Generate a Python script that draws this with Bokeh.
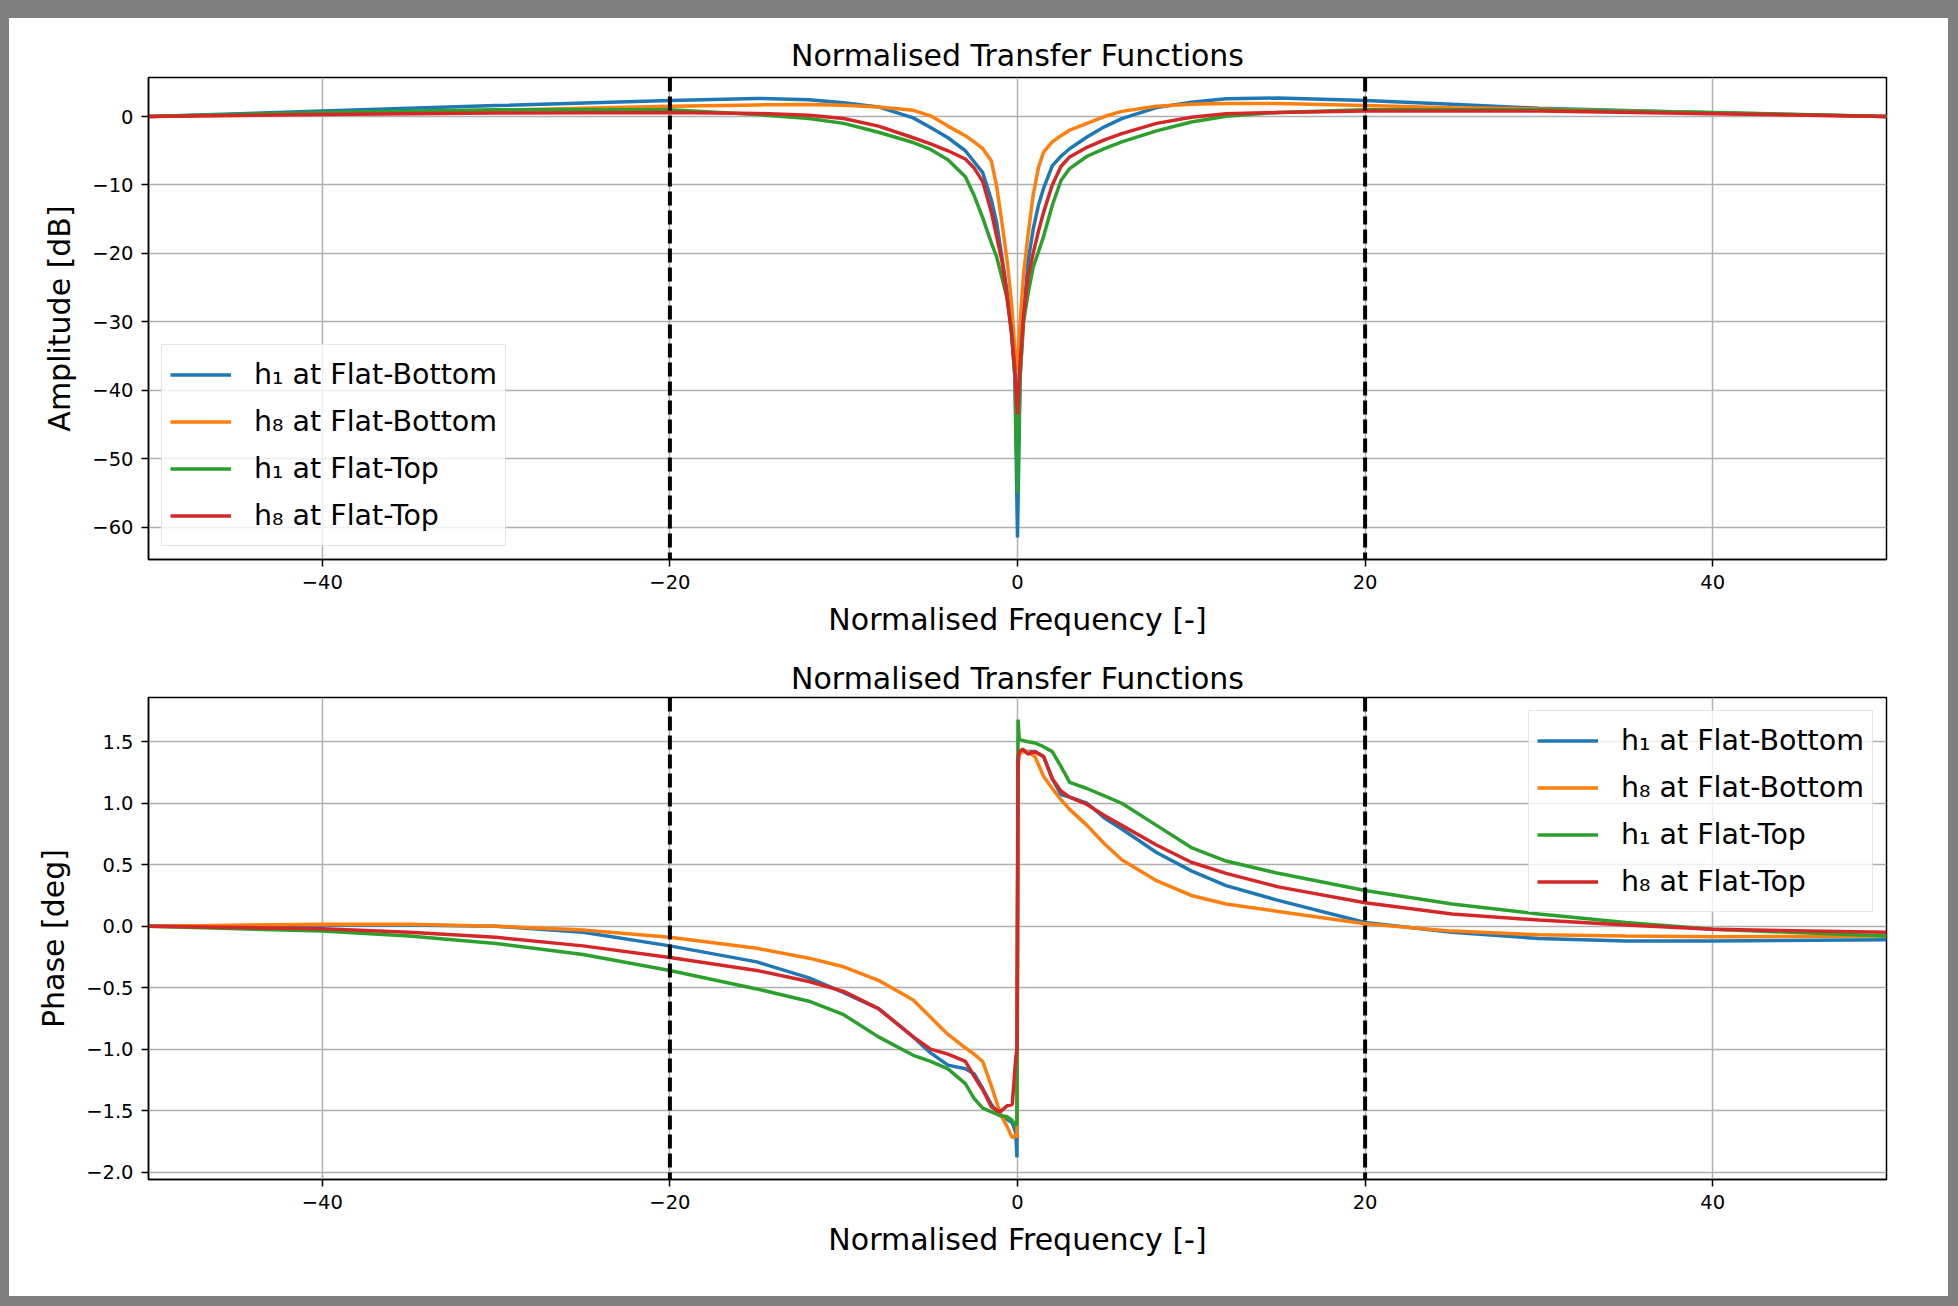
from bokeh.plotting import figure
from bokeh.models import FixedTicker, CustomJSTickFormatter, Span
from bokeh.layouts import column
from bokeh.embed import file_html
from bokeh.resources import INLINE

# ---------------- data ----------------
freq_amp = [-50, -40, -30, -20, -15, -12, -10, -8, -6, -5, -4, -3, -2.5, -2, -1.5, -1.2,
            -0.9, -0.6, -0.35, -0.15, 0, 0.15, 0.35, 0.6, 0.9, 1.2, 1.5, 2, 2.5, 3, 4, 5,
            6, 8, 10, 12, 15, 20, 25, 30, 40, 50]

amp_h1_flat_bottom = [0, 0.8, 1.6, 2.35, 2.65, 2.45, 2.0, 1.4, -0.2, -1.6, -3.1, -5.0, -6.6, -8.2,
                      -12.2, -15.5, -20.5, -25.5, -31.5, -38, -61.5, -38, -29, -21.3, -16.5, -13,
                      -10.5, -7.2, -5.8, -4.7, -3.0, -1.5, -0.3, 1.3, 2.1, 2.6, 2.7, 2.35, 1.8,
                      1.2, 0.55, 0]
amp_h8_flat_bottom = [0, 0.4, 0.9, 1.5, 1.7, 1.75, 1.65, 1.4, 0.9, 0.1, -1.4, -2.8, -3.7, -4.7,
                      -6.5, -10.2, -15.4, -21, -27, -34, -37, -30, -23, -17.4, -11.5, -7.5,
                      -5.2, -3.7, -2.8, -2.0, -1.0, 0.0, 0.75, 1.5, 1.8, 1.9, 1.9, 1.6, 1.3,
                      1.1, 0.5, 0]
amp_h1_flat_top = [0, 0.6, 1.0, 1.0, 0.3, -0.3, -1.0, -2.3, -3.8, -4.8, -6.3, -8.8, -11.5, -14.8,
                   -18.5, -20.5, -23.5, -26.5, -31, -38, -55, -38, -30, -26, -22, -19.8,
                   -17.5, -13, -9.35, -7.6, -5.8, -4.7, -3.7, -2.1, -0.8, 0.05, 0.6, 1.0, 1.0,
                   1.0, 0.6, 0]
amp_h8_flat_top = [0, 0.3, 0.5, 0.6, 0.45, 0.2, -0.3, -1.4, -3.1, -4.0, -5.0, -6.2, -7.5, -9.5,
                   -14, -17.5, -21, -26.5, -31.5, -37, -43.5, -36, -29, -23.5, -20, -16.8,
                   -14, -10, -7.3, -5.9, -4.5, -3.4, -2.5, -1.0, -0.1, 0.4, 0.6, 0.8, 0.8,
                   0.8, 0.4, 0]

freq_phase = [-50, -40, -35, -30, -25, -20, -15, -12, -10, -8, -6, -5, -4, -3, -2.5, -2, -1.5,
              -1, -0.6, -0.3, -0.1, -0.03, 0.03, 0.1, 0.3, 0.6, 1, 1.5, 2, 2.5, 3, 4, 5, 6, 8,
              10, 12, 15, 20, 25, 30, 35, 40, 50]

phase_h1_flat_bottom = [0, 0.01, 0.01, 0.0, -0.05, -0.16, -0.29, -0.42, -0.54, -0.67, -0.9,
                        -1.03, -1.13, -1.16, -1.2, -1.32, -1.45, -1.54, -1.57, -1.6, -1.68,
                        -1.88, 1.38, 1.42, 1.42, 1.42, 1.42, 1.38, 1.2, 1.07, 1.05, 1.0, 0.88,
                        0.79, 0.6, 0.45, 0.33, 0.21, 0.03, -0.05, -0.1, -0.12, -0.12, -0.11]
phase_h8_flat_bottom = [0, 0.015, 0.015, 0.0, -0.03, -0.09, -0.18, -0.26, -0.33, -0.44, -0.6,
                        -0.74, -0.88, -0.99, -1.04, -1.1, -1.3, -1.52, -1.63, -1.72, -1.7,
                        -1.72, 1.3, 1.4, 1.42, 1.42, 1.38, 1.22, 1.12, 1.03, 0.95, 0.82, 0.67,
                        0.54, 0.37, 0.25, 0.18, 0.12, 0.02, -0.04, -0.07, -0.08, -0.085, -0.08]
phase_h1_flat_top = [0, -0.04, -0.08, -0.14, -0.23, -0.36, -0.51, -0.61, -0.72, -0.9, -1.05,
                     -1.1, -1.16, -1.28, -1.4, -1.48, -1.51, -1.54, -1.55, -1.58, -1.62, -1.6,
                     1.68, 1.52, 1.51, 1.5, 1.49, 1.46, 1.42, 1.3, 1.17, 1.12, 1.06, 1.0, 0.82,
                     0.64, 0.53, 0.43, 0.29, 0.18, 0.1, 0.03, -0.025, -0.08]
phase_h8_flat_top = [0, -0.02, -0.05, -0.09, -0.16, -0.255, -0.36, -0.45, -0.53, -0.67, -0.9,
                     -1.0, -1.04, -1.1, -1.22, -1.33, -1.47, -1.51, -1.46, -1.45, -1.07, -1.0,
                     1.35, 1.42, 1.44, 1.4, 1.42, 1.38, 1.2, 1.1, 1.05, 0.99, 0.9, 0.82, 0.66,
                     0.52, 0.43, 0.32, 0.19, 0.1, 0.05, 0.01, -0.025, -0.05]

series_labels = ["h\u2081 at Flat-Bottom", "h\u2088 at Flat-Bottom",
                 "h\u2081 at Flat-Top", "h\u2088 at Flat-Top"]
amp_series = [amp_h1_flat_bottom, amp_h8_flat_bottom, amp_h1_flat_top, amp_h8_flat_top]
phase_series = [phase_h1_flat_bottom, phase_h8_flat_bottom, phase_h1_flat_top, phase_h8_flat_top]

x_ticks = [-40, -20, 0, 20, 40]
amp_ticks = [-60, -50, -40, -30, -20, -10, 0]
phase_ticks = [-2.0, -1.5, -1.0, -0.5, 0.0, 0.5, 1.0, 1.5]
marker_freqs = [-20, 20]

title_text = "Normalised Transfer Functions"
x_label = "Normalised Frequency [-]"

# ---------------- styling ----------------
colors = ["#1f77b4", "#ff7f0e", "#2ca02c", "#d62728"]
FONT = "DejaVu Sans"
LW = 3.5


def fmt(decimals):
    return CustomJSTickFormatter(code=(
        "const s = Math.abs(tick).toFixed(%d);"
        "return (tick < -1e-9 ? '\u2212' : '') + s;" % decimals))


def make_fig(y_range, y_ticks, y_label, decimals, top_border, bottom_border, title_standoff):
    p = figure(output_backend="svg", toolbar_location=None,
               frame_width=1738, frame_height=482,
               min_border_left=139, min_border_right=62,
               min_border_top=top_border, min_border_bottom=bottom_border,
               x_range=(-50, 50), y_range=y_range,
               title=title_text, background_fill_color="white",
               border_fill_color="white")
    p.title.text_font = FONT
    p.title.text_font_size = "30px"
    p.title.text_font_style = "normal"
    p.title.align = "center"
    p.title.text_color = "black"
    p.title.standoff = title_standoff

    for ax in (p.xaxis[0], p.yaxis[0]):
        ax.major_label_text_font = FONT
        ax.major_label_text_font_size = "19.5px"
        ax.major_label_text_color = "black"
        ax.axis_label_text_font = FONT
        ax.axis_label_text_font_size = "30px"
        ax.axis_label_text_font_style = "normal"
        ax.axis_label_text_color = "black"
        ax.axis_line_color = "black"
        ax.axis_line_width = 1.5
        ax.major_tick_line_color = "black"
        ax.major_tick_line_width = 1.5
        ax.major_tick_out = 7
        ax.major_tick_in = 0
        ax.minor_tick_line_color = None
        ax.major_label_standoff = 8
    p.xaxis[0].axis_label_standoff = 10
    p.yaxis[0].axis_label_standoff = 12

    p.xaxis.ticker = FixedTicker(ticks=x_ticks)
    p.xaxis.formatter = fmt(0)
    p.xaxis.axis_label = x_label
    p.yaxis.ticker = FixedTicker(ticks=y_ticks)
    p.yaxis.formatter = fmt(decimals)
    p.yaxis.axis_label = y_label

    p.xgrid.grid_line_color = "#b0b0b0"
    p.ygrid.grid_line_color = "#b0b0b0"
    p.xgrid.grid_line_width = 1.5
    p.ygrid.grid_line_width = 1.5

    p.outline_line_color = "black"
    p.outline_line_width = 1.5
    p.outline_line_alpha = 1.0
    return p


p1 = make_fig((-64.7, 5.7), amp_ticks, "Amplitude [dB]", 0, 59, 96, 10)
for ys, c, lab in zip(amp_series, colors, series_labels):
    p1.line(freq_amp, ys, line_color=c, line_width=LW, legend_label=lab)

p2 = make_fig((-2.06, 1.86), phase_ticks, "Phase [deg]", 1, 42, 117, 4)
for ys, c, lab in zip(phase_series, colors, series_labels):
    p2.line(freq_phase, ys, line_color=c, line_width=LW, legend_label=lab)

for p, loc in ((p1, "bottom_left"), (p2, "top_right")):
    for f in marker_freqs:
        p.add_layout(Span(location=f, dimension="height", line_color="black",
                          line_width=4, line_dash="14 5"))
    lg = p.legend[0]
    lg.location = loc
    lg.margin = 13
    lg.padding = 8
    lg.spacing = 4
    lg.glyph_width = 61
    lg.glyph_height = 43
    lg.label_height = 43
    lg.label_standoff = 23
    lg.label_text_font = FONT
    lg.label_text_font_size = "28.5px"
    lg.label_text_color = "black"
    lg.border_line_color = "#cccccc"
    lg.border_line_width = 1.5
    lg.background_fill_color = "white"
    lg.background_fill_alpha = 0.8

layout = column(p1, p2, spacing=0,
                styles={"background-color": "white",
                        "border-style": "solid",
                        "border-color": "#7f7f7f",
                        "border-width": "18px 10px 10px 9px"})

open("out.html", "w").write(file_html(layout, INLINE))
